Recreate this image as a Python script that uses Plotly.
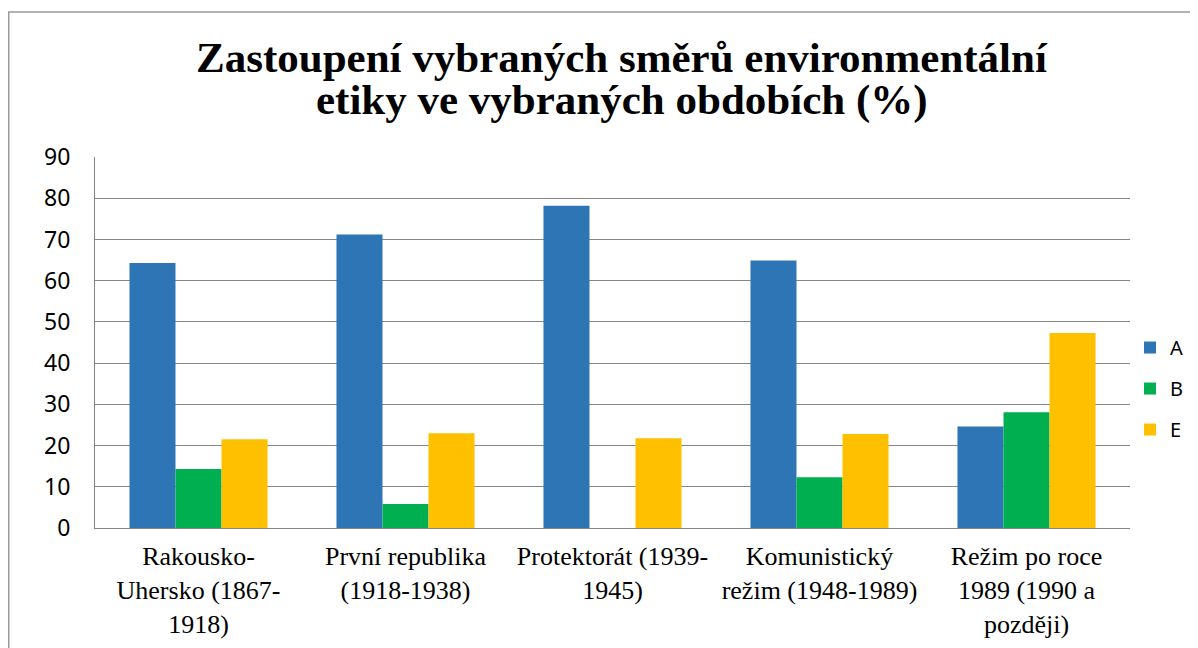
import plotly.graph_objects as go

categories = [
    "Rakousko-<br>Uhersko (1867-<br>1918)",
    "První republika<br>(1918-1938)",
    "Protektorát (1939-<br>1945)",
    "Komunistický<br>režim (1948-1989)",
    "Režim po roce<br>1989 (1990 a<br>později)",
]
series_names = ["A", "B", "E"]
values_A = [64.3, 71.2, 78.2, 64.9, 24.6]
values_B = [14.3, 5.8, 0, 12.3, 28.1]
values_E = [21.5, 23.0, 21.8, 22.8, 47.3]
colors = ["#2E75B6", "#00B050", "#FFC000"]
y_ticks = [0, 10, 20, 30, 40, 50, 60, 70, 80, 90]
title_lines = [
    "Zastoupení vybraných směrů environmentální",
    "etiky ve vybraných obdobích (%)",
]

fig = go.Figure()
for i, (name, vals) in enumerate(zip(series_names, [values_A, values_B, values_E])):
    fig.add_trace(go.Bar(
        x=categories, y=vals, name=name,
        marker=dict(color=colors[i], line=dict(width=0)),
        legendgroup=name,
    ))

# page body has an 8px margin, so figure coords = screen coords - 8
W, H = 1198, 648
L, T = 87, 149
pw, ph = 1035, 371
R = W - L - pw
B = H - T - ph
serif = "Liberation Serif, Times New Roman, serif"

annotations = []
for line, yc in zip(title_lines, [50, 92]):
    annotations.append(dict(
        text="<b>" + line + "</b>", showarrow=False,
        xref="paper", yref="paper",
        x=(614 - L) / pw, xanchor="center",
        y=(T + ph - yc) / ph, yanchor="middle",
        font=dict(family=serif, size=43, color="black"),
    ))

fig.update_layout(
    width=W, height=H,
    margin=dict(l=L, r=R, t=T, b=B, autoexpand=False),
    paper_bgcolor="white", plot_bgcolor="white",
    barmode="group", bargap=0.333, bargroupgap=0,
    annotations=annotations,
    legend=dict(
        x=1.0, xanchor="left", y=0.539, yanchor="top",
        font=dict(family="Noto Sans", size=20, color="black"),
        tracegroupgap=12, bgcolor="rgba(0,0,0,0)",
        itemwidth=30,
    ),
    font=dict(family="Noto Sans", color="black"),
    xaxis=dict(
        showline=True, linecolor="#868686", linewidth=1,
        tickfont=dict(family=serif, size=26, color="black"),
        ticks="", showgrid=False, ticklabelstandoff=5,
    ),
    yaxis=dict(
        range=[0, 90], tickvals=y_ticks,
        showline=True, linecolor="#868686", linewidth=1,
        showgrid=True, gridcolor="#868686", gridwidth=1,
        tickfont=dict(family="Noto Sans", size=23, color="black"),
        ticks="", ticklabelstandoff=19, zeroline=False,
    ),
    shapes=[dict(
        type="rect", xref="paper", yref="paper",
        x0=(0.75 - L) / pw, x1=(W + 20 - L) / pw,
        y0=-(B + 20) / ph, y1=(T + ph - 4) / ph,
        line=dict(color="#9a9a9a", width=1.5), fillcolor="rgba(0,0,0,0)",
        layer="below",
    )],
)

fig.write_html("out.html")
